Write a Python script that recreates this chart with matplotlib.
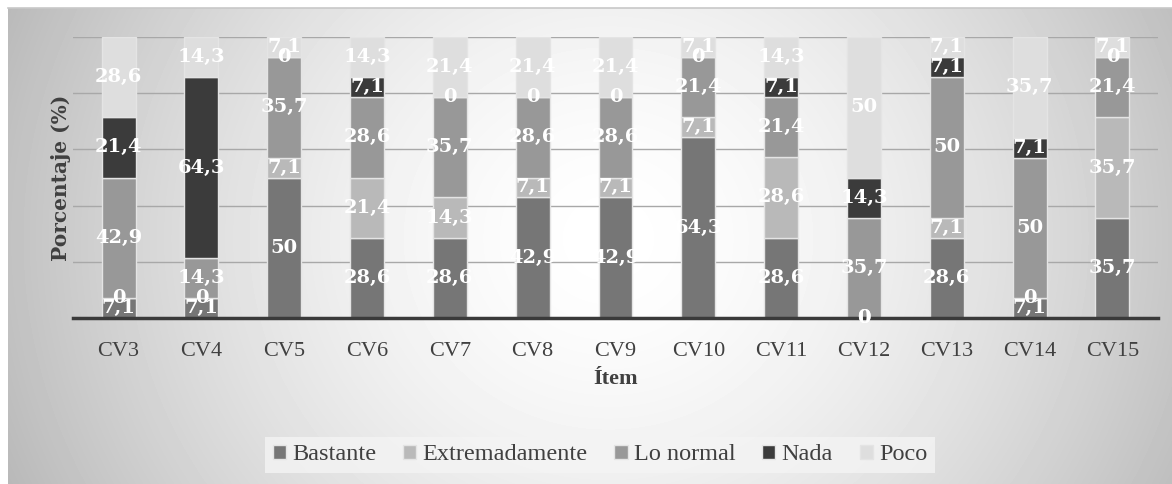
import numpy as np
import matplotlib
matplotlib.use("Agg")
import matplotlib.pyplot as plt

categories = ["CV3", "CV4", "CV5", "CV6", "CV7", "CV8", "CV9", "CV10",
              "CV11", "CV12", "CV13", "CV14", "CV15"]
series_names = ["Bastante", "Extremadamente", "Lo normal", "Nada", "Poco"]
bastante       = [7.1, 7.1, 50, 28.6, 28.6, 42.9, 42.9, 64.3, 28.6, 0, 28.6, 7.1, 35.7]
extremadamente = [0, 0, 7.1, 21.4, 14.3, 7.1, 7.1, 7.1, 28.6, 0, 7.1, 0, 35.7]
lo_normal      = [42.9, 14.3, 35.7, 28.6, 35.7, 28.6, 28.6, 21.4, 21.4, 35.7, 50, 50, 21.4]
nada           = [21.4, 64.3, 0, 7.1, 0, 0, 0, 0, 7.1, 14.3, 7.1, 7.1, 0]
poco           = [28.6, 14.3, 7.1, 14.3, 21.4, 21.4, 21.4, 7.1, 14.3, 50, 7.1, 35.7, 7.1]
series_values = [bastante, extremadamente, lo_normal, nada, poco]
colors = ["#767676", "#b9b9b9", "#989898", "#3b3b3b", "#dedede"]

W, H = 1172, 484
fig = plt.figure(figsize=(W / 100, H / 100), dpi=100)
fig.patch.set_facecolor("white")

# radial gradient background
bg = fig.add_axes([8 / W, 0, 1 - 8 / W, 1 - 8 / H], zorder=-10)
yy, xx = np.mgrid[0:476, 0:1164]
cx, cy = 600, 230
r = np.sqrt(((xx - cx) / 600.0) ** 2 + ((yy - cy) / 560.0) ** 2)
val = 1.0 - 0.24 * np.clip(r, 0, 1.3) ** 1.6
bg.imshow(val, cmap="gray", vmin=0, vmax=1, aspect="auto",
          extent=[0, 1, 0, 1], interpolation="bilinear")
bg.set_axis_off()
fig.add_artist(plt.Line2D([8 / W, 1], [1 - 8 / H, 1 - 8 / H],
                          color="#c8c8c8", lw=1.2, transform=fig.transFigure))

ax = fig.add_axes([73 / W, 1 - 318 / H, (1158 - 73) / W, (318 - 37) / H])
ax.patch.set_alpha(0)
x = np.arange(len(categories))
bottom = np.zeros(len(categories))
bw = 0.41
for name, vals, col in zip(series_names, series_values, colors):
    vals = np.array(vals, dtype=float)
    ax.bar(x, vals, bw, bottom=bottom, color=col, edgecolor="#e4e4e4",
           linewidth=1.0, label=name, zorder=3)
    for xi, b, v in zip(x, bottom, vals):
        lbl = ("%g" % v).replace(".", ",")
        ax.text(xi, b + v / 2, lbl, ha="center", va="center", color="white",
                fontsize=14, fontweight="bold", family="DejaVu Serif",
                zorder=6, clip_on=False)
    bottom += vals

ax.set_ylim(0, 100)
ax.set_xlim(-0.55, len(categories) - 0.45)
ax.set_yticks([0, 20, 40, 60, 80, 100])
ax.set_yticklabels([])
ax.tick_params(axis="y", length=0)
ax.tick_params(axis="x", length=0, pad=17)
ax.set_xticks(x)
ax.set_xticklabels(categories, family="Liberation Serif", fontsize=16, color="#404040")
ax.grid(axis="y", color="#a8a8a8", linewidth=1.0, zorder=0)
for s in ["top", "right", "left"]:
    ax.spines[s].set_visible(False)
ax.spines["bottom"].set_color("#3a3a3a")
ax.spines["bottom"].set_linewidth(2.5)
ax.spines["bottom"].set_zorder(5)

ax.set_xlabel("Ítem", family="Liberation Serif", fontsize=16, fontweight="bold",
              color="#404040", labelpad=6)
ax.set_ylabel("Porcentaje (%)", family="DejaVu Serif", fontsize=14.5,
              fontweight="bold", color="#404040", labelpad=-2)

leg = fig.legend(loc="center", bbox_to_anchor=(600 / W, 1 - 455 / H), ncol=5,
                 frameon=True, prop={"family": "Liberation Serif", "size": 17.5},
                 handlelength=0.55, handleheight=0.55, handletextpad=0.25,
                 columnspacing=1.1, borderpad=0.3)
leg.get_frame().set_facecolor("#f4f4f4")
leg.get_frame().set_edgecolor("none")
leg.get_frame().set_alpha(0.8)
leg.get_frame().set_boxstyle("square", pad=0.0)
for t in leg.get_texts():
    t.set_color("#404040")

fig.savefig("out.png", dpi=100)
